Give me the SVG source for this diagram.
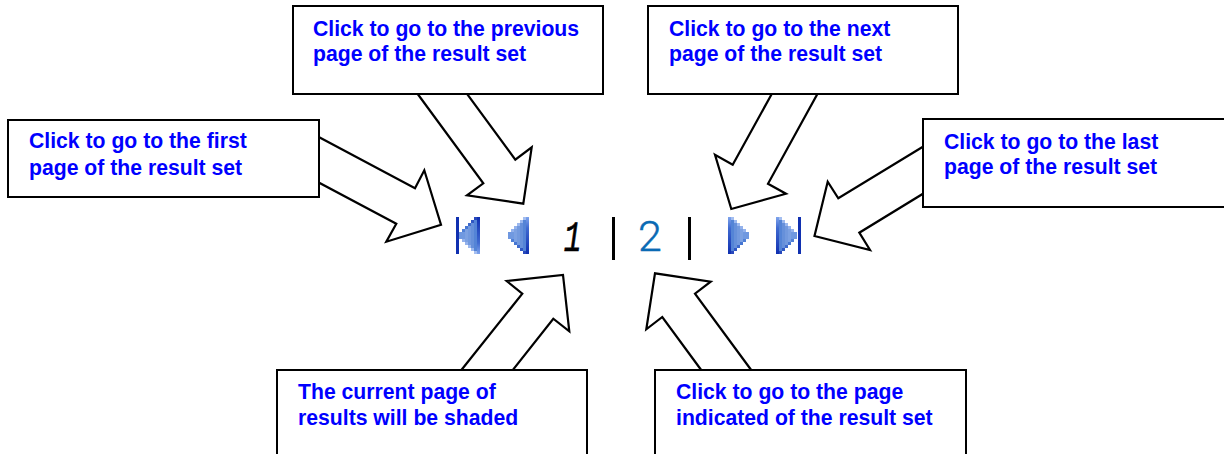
<svg xmlns="http://www.w3.org/2000/svg" xmlns:xlink="http://www.w3.org/1999/xlink" width="1224" height="454" viewBox="0 0 1224 454">
<style>
.box{fill:#fff;stroke:#000;stroke-width:2}
.arrow{fill:#fff;stroke:#000;stroke-width:2.2;stroke-linejoin:miter}
.lbl{font-family:"Liberation Sans",Arial,sans-serif;font-weight:700;font-size:21.2px;fill:#0000ff}
.bar{fill:#1030b0}
.pipe{fill:#000}
.px{shape-rendering:crispEdges}
</style>
<defs>
<linearGradient id="edge" x1="0" y1="0" x2="0" y2="1"><stop offset="0" stop-color="#7fa4ec"/><stop offset=".3" stop-color="#3f6ad0"/><stop offset="1" stop-color="#0f2fb0"/></linearGradient>
<g id="tri" class="px">
<rect x="0" y="15" width="3" height="6" fill="#6f98e0"/>
<rect x="3" y="12" width="3" height="12" fill="#7099e0"/>
<rect x="6" y="9" width="3" height="18" fill="#7ca1e2"/>
<rect x="9" y="6" width="3" height="24" fill="#7299de"/>
<rect x="12" y="3" width="3" height="30" fill="#6690da"/>
<rect x="15" y="0" width="3" height="36" fill="#5484d6"/>
<rect x="18" y="0" width="3" height="36" fill="url(#edge)"/>
<rect x="3" y="12" width="3" height="3" fill="#94b2ec"/>
<rect x="6" y="9" width="3" height="3" fill="#94b2ec"/>
<rect x="9" y="6" width="3" height="3" fill="#9cb8ee"/>
<rect x="12" y="3" width="3" height="3" fill="#9cb8ee"/>
<rect x="15" y="0" width="3" height="3" fill="#a4bef0"/>
<rect x="3" y="21" width="3" height="3" fill="#4f7fd6"/>
<rect x="6" y="24" width="3" height="3" fill="#4676d2"/>
<rect x="9" y="27" width="3" height="3" fill="#3e6acc"/>
<rect x="12" y="30" width="3" height="3" fill="#3058c4"/>
<rect x="15" y="33" width="3" height="3" fill="#2848bc"/>
</g>
</defs>
<g id="connectors">
<polygon class="arrow" points="315,135 415,188.3 424.3,170.3 441,224.7 386.3,241.7 396.3,223.7 315,180.5"/>
<polygon class="arrow" points="415.5,91 483.3,183.3 467,195.3 523.3,203.7 531.7,147.3 515.3,159.7 465,91"/>
<polygon class="arrow" points="773.4,91 732.7,164.7 715,154.7 731.3,209 786,193.7 768,183.7 819,91"/>
<polygon class="arrow" points="927,144.3 838.3,198.3 827.7,181.7 814.5,236 870,250 859.3,232.7 927,191.3"/>
<polygon class="arrow" points="459,373 522.3,293.7 506.7,281 563,275 569.3,331.3 553.3,318.7 510.5,373"/>
<polygon class="arrow" points="703.4,373 662.3,317 646.3,329.3 655,273.3 710.7,281.7 695,293.7 753.4,373"/>
</g>
<g id="node-first"><rect class="box" x="8" y="120" width="311" height="77"/><text class="lbl" x="29" y="148">Click to go to the first</text><text class="lbl" x="29" y="175">page of the result set</text></g>
<g id="node-prev"><rect class="box" x="293" y="6" width="310" height="88"/><text class="lbl" x="313" y="36">Click to go to the previous</text><text class="lbl" x="313" y="61">page of the result set</text></g>
<g id="node-next"><rect class="box" x="648" y="6" width="310" height="88"/><text class="lbl" x="669" y="36">Click to go to the next</text><text class="lbl" x="669" y="61">page of the result set</text></g>
<g id="node-last"><rect class="box" x="923" y="119" width="310" height="88"/><text class="lbl" x="944" y="149">Click to go to the last</text><text class="lbl" x="944" y="174">page of the result set</text></g>
<g id="node-current"><rect class="box" x="277" y="370" width="310" height="95"/><text class="lbl" x="298" y="399">The current page of</text><text class="lbl" x="298" y="425">results will be shaded</text></g>
<g id="node-indicated"><rect class="box" x="655" y="370" width="311" height="95"/><text class="lbl" x="676" y="399">Click to go to the page</text><text class="lbl" x="676" y="425">indicated of the result set</text></g>
<g id="pager">
<g id="icon-first"><rect class="bar px" x="456" y="217" width="3" height="37"/><use xlink:href="#tri" href="#tri" transform="translate(459,254) scale(1,-1.03)"/></g>
<g id="icon-prev"><use xlink:href="#tri" href="#tri" transform="translate(508,217) scale(1,1.03)"/></g>
<text id="page-1" transform="translate(571,251) skewX(-8) scale(.68,1)" text-anchor="middle" font-family="'Liberation Mono',monospace" font-size="43" fill="#000" stroke="#000" stroke-width=".7">1</text>
<rect class="pipe px" x="612" y="217" width="3" height="43"/>
<text id="page-2" x="650" y="251" text-anchor="middle" font-family="Roboto,'Liberation Sans',sans-serif" font-weight="300" font-size="43" fill="#0a6ab4" stroke="#0a6ab4" stroke-width=".4">2</text>
<rect class="pipe px" x="688" y="217" width="3" height="43"/>
<g id="icon-next"><use xlink:href="#tri" href="#tri" transform="translate(749,217) scale(-1,1.03)"/></g>
<g id="icon-last"><use xlink:href="#tri" href="#tri" transform="translate(797,217) scale(-1,1.03)"/><rect class="bar px" x="798" y="217" width="3" height="37"/></g>
</g>
</svg>
